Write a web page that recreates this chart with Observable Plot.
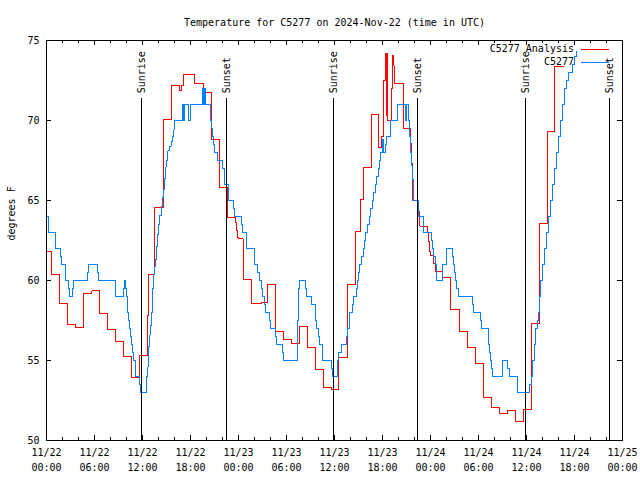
<!DOCTYPE html>
<html><head><meta charset="utf-8">
<script src="https://cdn.jsdelivr.net/npm/d3@7"></script>
<script src="https://cdn.jsdelivr.net/npm/@observablehq/plot@0.6"></script>
<style>
html,body{margin:0;padding:0;background:#fff;}
#chart svg{display:block;}
</style></head><body><div id="chart"></div>
<script>
// ---- data (hours since 11/22 00:00 UTC, degrees F) ----
const analysisHours = [0,0.67,1.67,2.67,3.67,4.67,5.67,6.67,7.67,8.67,9.67,10.67,11.67,12.58,12.7,13.54,14.58,14.65,15.6,16.62,16.88,17.08,18.54,19.58,20.62,21.62,22.58,23.58,23.71,23.83,23.96,24.58,25.58,26.83,27.58,28.62,29.58,30.58,31.58,32.58,33.58,34.58,35.62,36.54,37.58,37.67,38.58,39.25,39.67,40.62,41.54,41.83,42.17,42.42,42.5,42.54,42.67,43.08,43.29,43.42,43.54,44.58,45.5,45.62,45.7,46.5,46.67,47.58,47.7,47.83,47.96,48.42,48.67,49.54,50.54,51.58,52.58,53.58,54.58,55.58,56.58,57.62,58.62,59.62,60.58,61.58,62.58,62.62,63.54,64.67];
const analysisTemps = [61.8,60.35,58.54,57.27,57.06,59.17,59.35,57.92,56.92,56.17,55.23,53.92,55.3,57.8,60.4,64.58,67.3,70.04,72.19,71.9,72.19,72.85,72.29,71.77,68.81,65.79,63.96,63.65,63.12,62.67,62.6,60.06,58.54,58.6,59.73,56.81,56.29,56.04,57.13,55.83,54.42,53.29,53.19,55.21,57.71,59.73,63.06,65.04,67.04,70.38,68.33,69.0,72.5,74.2,70.3,74.2,70.0,72.0,74.06,73.4,72.33,69.48,68.54,67.3,65.0,64.3,63.4,63.02,62.46,61.83,61.56,61.04,60.56,60.21,58.19,56.79,55.79,54.79,52.67,52.08,51.67,51.88,51.2,51.92,57.33,63.58,68.5,69.33,73.38,73.38];

const observedHours = [0,0.25,1.17,1.71,1.83,2.42,2.79,2.92,3.29,3.42,5.17,5.29,6.42,6.54,8.67,9.67,9.75,9.92,10.04,10.17,10.29,10.42,10.54,10.67,10.79,10.92,11.17,11.67,11.79,12.54,12.67,12.79,12.92,13.04,13.17,13.29,13.42,13.54,13.67,13.79,13.92,14.04,14.17,14.33,14.46,14.58,14.75,14.92,15.04,15.17,15.42,15.58,15.71,15.83,15.96,17.04,17.17,17.29,17.79,18.0,19.54,19.67,19.75,19.88,20.5,20.62,20.79,20.92,21.04,21.33,21.96,22.25,22.75,23.42,23.54,24.42,24.54,25.04,26.04,26.42,26.67,26.92,27.04,27.29,27.42,27.92,28.04,28.67,28.79,29.54,29.67,31.33,31.46,31.58,32.33,32.46,33.08,33.58,33.71,33.96,34.08,34.46,35.58,35.71,36.33,36.42,36.54,36.92,37.5,37.67,37.83,38.25,38.42,38.71,38.83,38.96,39.17,39.33,39.58,39.71,39.92,40.12,40.33,40.5,40.71,40.92,41.12,41.29,41.46,41.58,41.75,42.0,42.17,42.42,42.54,42.96,43.92,44.83,44.96,45.3,45.42,45.54,45.62,45.7,45.92,46.5,47.17,48.08,48.21,48.42,48.58,48.71,49.46,49.96,50.71,50.88,51.0,51.08,51.29,51.46,53.21,53.33,54.21,54.33,55.21,55.33,55.46,55.58,55.71,56.96,57.67,57.83,58.83,60.38,60.58,60.71,60.96,61.08,61.33,61.46,61.58,61.71,61.96,62.21,62.46,62.71,62.96,63.21,63.46,63.71,63.96,64.21,64.46,64.71,65.0,65.29,65.71,66.0,66.2];
const observedTemps = [64,63,62,61.5,61,60,59.5,59,59.5,60,60.5,61,60.5,60,59,59.5,60,59.5,59,58,57.5,57,56.5,56,55.5,55,54,53.5,53,54,54.6,55.9,56.6,57.2,58,59.5,60.4,60.9,61.3,62.1,62.9,63.5,64.06,64.6,65.2,65.7,66.4,67.1,67.5,68.1,68.4,68.7,69.0,69.4,70,71,70,71,70,71,72,71,72,71,70,69.5,69,68.5,68,67.5,67,66,65,64.5,64,63.5,63,62,61,60.5,60,59.5,59,58.5,58,57.5,57,56.5,56,55.5,55,57.5,59.5,60,59.5,59,58.5,57.5,57,56.5,56,55,54.5,54,54.5,55,55.5,56,56.5,57,58,58.5,59,59.5,60,60.5,61,61.5,62,62.5,63,63.5,64,64.5,65,65.5,66,66.5,67,67.5,68,68.8,68,68.5,69,70,71,70,71,70,69,68,67.2,66.3,65,64,63,62.5,62,61.5,61,60,61,62,61.5,61,60.5,60,59.5,59,58.5,58,57.5,57,56,55.5,55,54.5,54,55,54.5,54,53,53.5,54,55,56,57,57.5,58,59,60,61,62,63,64,65,66,67,68,69,70,71,72,72.5,73,73.5,74,74.3];

const sunEventHours = [11.92, 22.54, 35.92, 46.42, 59.92, 70.42];
const sunEventLabels = ["Sunrise","Sunset","Sunrise","Sunset","Sunrise","Sunset"];

const xMajorTicks = [0,6,12,18,24,30,36,42,48,54,60,66,72];
const xTickLabels = ["11/22\n00:00","11/22\n06:00","11/22\n12:00","11/22\n18:00","11/23\n00:00","11/23\n06:00","11/23\n12:00","11/23\n18:00","11/24\n00:00","11/24\n06:00","11/24\n12:00","11/24\n18:00","11/25\n00:00"];
const xMinorTicks = [2,4,8,10,14,16,20,22,26,28,32,34,38,40,44,46,50,52,56,58,62,64,68,70];
const yTicks = [50,55,60,65,70,75];

const seriesNames = ["C5277 Analysis", "C5277"];
const seriesColors = ["#ff0000", "#0080ff"];
const titleText = "Temperature for C5277 on 2024-Nov-22 (time in UTC)";
const yLabel = "degrees F";

// ---- build tables ----
const analysis = analysisHours.map((h, i) => ({h, v: analysisTemps[i]}));
const observed = observedHours.map((h, i) => ({h, v: observedTemps[i]}));
const sunEvents = sunEventHours.map((h, i) => ({h, label: sunEventLabels[i]}));

const W = 640, H = 480, mL = 46, mR = 18, mT = 40, mB = 40;
const pw = W - mL - mR, ph = H - mT - mB;
const FONT = "'DejaVu Sans Mono', 'Liberation Mono', monospace";
const crisp = {shapeRendering: "crispEdges"};

const chart = Plot.plot({
  width: W, height: H,
  marginLeft: mL, marginRight: mR, marginTop: mT, marginBottom: mB,
  style: {fontFamily: FONT, fontSize: "10px", background: "#fff", color: "#000", overflow: "visible"},
  x: {domain: [0, 72], axis: null},
  y: {domain: [50, 75], axis: null},
  marks: [
    Plot.line(analysis, {x: "h", y: "v", curve: "step-after", stroke: seriesColors[0], strokeWidth: 1, ...crisp}),
    Plot.line(observed, {x: "h", y: "v", curve: "step-after", stroke: seriesColors[1], strokeWidth: 1, ...crisp}),
    Plot.ruleX(sunEvents, {x: "h", y1: 50, y2: 71.4, stroke: "#000", strokeWidth: 1, ...crisp}),
    Plot.text(sunEvents, {x: "h", y: 71.7, text: "label", rotate: -90, textAnchor: "start", fontSize: 10, fill: "#000"}),
    // inward ticks, mirrored on all four sides
    Plot.tickX(xMajorTicks, {x: d => d, insetTop: ph - 5, stroke: "#000", ...crisp}),
    Plot.tickX(xMajorTicks, {x: d => d, insetBottom: ph - 5, stroke: "#000", ...crisp}),
    Plot.tickX(xMinorTicks, {x: d => d, insetTop: ph - 3, stroke: "#000", ...crisp}),
    Plot.tickX(xMinorTicks, {x: d => d, insetBottom: ph - 3, stroke: "#000", ...crisp}),
    Plot.tickY(yTicks, {y: d => d, insetRight: pw - 5, stroke: "#000", ...crisp}),
    Plot.tickY(yTicks, {y: d => d, insetLeft: pw - 5, stroke: "#000", ...crisp}),
    Plot.frame({stroke: "#000", ...crisp}),
    // tick labels
    Plot.text(yTicks, {y: d => d, text: d => String(d), frameAnchor: "left", textAnchor: "end", dx: -7, fill: "#000"}),
    Plot.text(xMajorTicks, {x: d => d, text: (d, i) => xTickLabels[i], frameAnchor: "bottom", lineAnchor: "top", dy: 5, lineHeight: 1.5, fill: "#000"}),
    // axis label and title
    Plot.text([yLabel], {text: d => d, frameAnchor: "left", rotate: -90, dx: -35, dy: 0, fill: "#000"}),
    Plot.text([titleText], {text: d => d, frameAnchor: "top", dy: -22, fill: "#000"})
  ]
});

document.getElementById("chart").appendChild(chart);

// legend (top-right, inside the frame)
const svg = d3.select(chart);
const lg = svg.append("g").attr("font-family", FONT).attr("font-size", 10);
seriesNames.forEach((name, i) => {
  const yy = mT + 9 + i * 13;
  const xr = W - mR - 48;
  lg.append("text").attr("x", xr).attr("y", yy).attr("dy", "0.32em")
    .attr("text-anchor", "end").attr("fill", "#000").text(name);
  lg.append("line").attr("x1", xr + 7).attr("x2", xr + 35).attr("y1", yy + 0.5).attr("y2", yy + 0.5)
    .attr("stroke", seriesColors[i]).attr("stroke-width", 1).attr("shape-rendering", "crispEdges");
});
</script>
</body></html>
